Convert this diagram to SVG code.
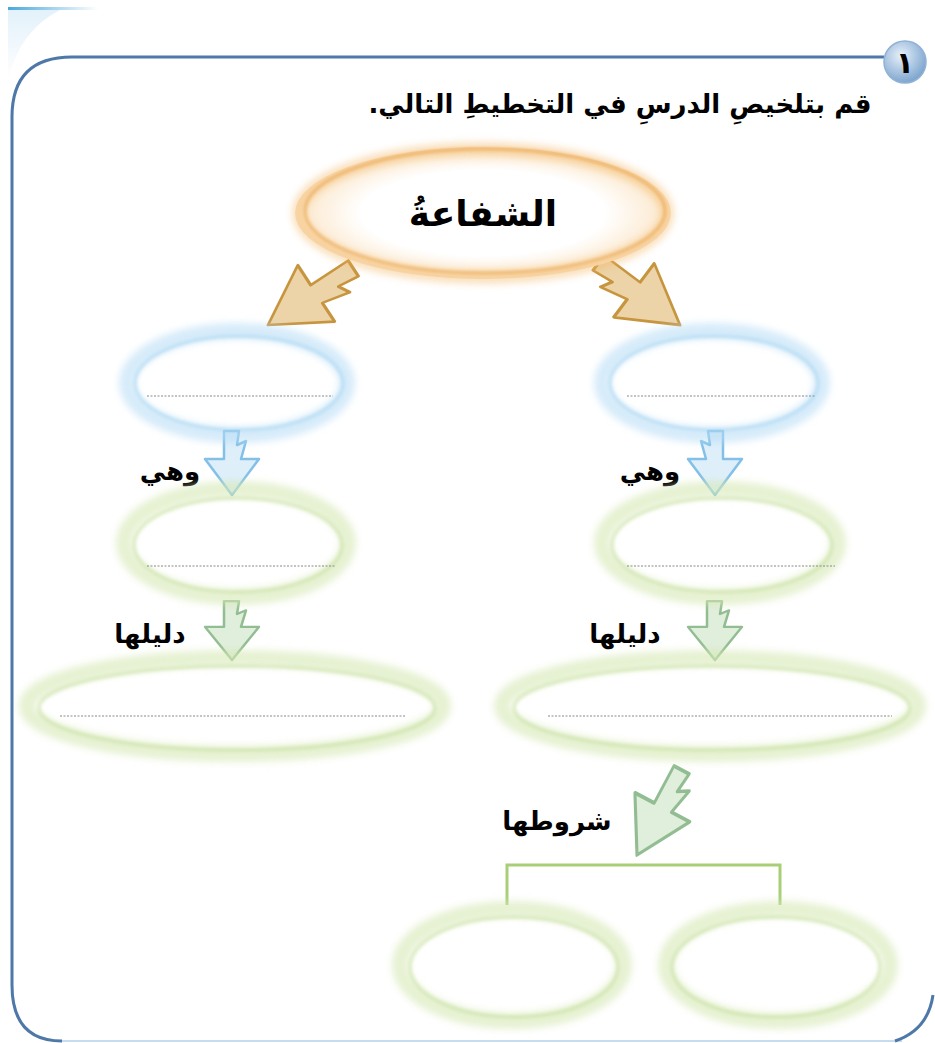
<svg xmlns="http://www.w3.org/2000/svg" width="935" height="1043" viewBox="0 0 935 1043">
<defs>
<filter id="soft" x="-20%" y="-20%" width="140%" height="140%"><feGaussianBlur stdDeviation="3.5"/></filter>
<filter id="soft2" x="-20%" y="-20%" width="140%" height="140%"><feGaussianBlur stdDeviation="1.5"/></filter>
<linearGradient id="tab" x1="0" y1="0" x2="1" y2="0"><stop offset="0" stop-color="#4aa8dc"/><stop offset="1" stop-color="#4aa8dc" stop-opacity="0"/></linearGradient>
<linearGradient id="tabv" x1="0" y1="0" x2="0" y2="1"><stop offset="0" stop-color="#d6ebf8"/><stop offset="1" stop-color="#d6ebf8" stop-opacity="0"/></linearGradient>
<radialGradient id="orangeFill" cx="0.5" cy="0.5" r="0.5"><stop offset="0.65" stop-color="#ffffff"/><stop offset="1" stop-color="#fbe6c8"/></radialGradient>
<radialGradient id="numFill" cx="0.4" cy="0.35" r="0.65"><stop offset="0" stop-color="#e6f0fa"/><stop offset="1" stop-color="#7fa6cf"/></radialGradient>
<path id="bolt" d="M-8,-64 L7,-64 L5,-50 L14,-54 L9,-36 L27,-36 L0,0 L-27,-36 L-8,-36 Z"/>
</defs>
<style>
.frame{fill:none;stroke:#4d78a8;stroke-width:3}
.t{font-family:"DejaVu Sans","Noto Sans",sans-serif;font-weight:bold;fill:#000}
.dots{stroke:#888;stroke-width:1;stroke-dasharray:2 1.5}
.oOut{fill:none;stroke:#f2b35e;stroke-width:14;opacity:0.4}
.oIn{fill:none;stroke:#e8a24a;stroke-width:3;opacity:0.6}
.bOut{fill:none;stroke:#b5dcf5;stroke-width:16;opacity:0.55}
.bIn{fill:none;stroke:#9dd0f0;stroke-width:4;opacity:0.45}
.gOut{fill:none;stroke:#d6e8b4;stroke-width:16;opacity:0.6}
.gIn{fill:none;stroke:#bcd98e;stroke-width:4;opacity:0.4}
.arrO{fill:#ecd3a8;stroke:#c8953f;stroke-width:2;stroke-linejoin:round}
.arrB{fill:#deeffa;stroke:#82c0e8;stroke-width:2.5;stroke-linejoin:round}
.arrG{fill:#e0eedc;stroke:#92bd92;stroke-width:2.5;stroke-linejoin:round}
.brk{fill:none;stroke:#a8cf78;stroke-width:3}
</style>
<rect width="935" height="1043" fill="#ffffff"/>
<rect x="8" y="7" width="90" height="3" fill="url(#tab)"/>
<path d="M8,10 L60,10 Q20,30 8,80 Z" fill="url(#tabv)" opacity="0.7"/>
<path class="frame" d="M884,57 L72,57 Q12,57 12,117 L12,985 Q12,1041 62,1041"/>
<path d="M62,1041 L902,1041" stroke="#c6ddef" stroke-width="2" fill="none"/>
<path class="frame" d="M895,1041 Q928,1030 933,995"/>
<g id="num">
<circle cx="905" cy="62" r="21" fill="url(#numFill)" stroke="#8fb2d6" stroke-width="1.5"/>
<text class="t" x="905" y="73" font-size="30" text-anchor="middle">١</text>
</g>
<text id="title" class="t" x="620" y="113" font-size="26" text-anchor="middle" direction="rtl">قم بتلخيصِ الدرسِ في التخطيطِ التالي.</text>

<g id="connectors">
<use href="#bolt" class="arrO" transform="translate(268,325) rotate(56.8) scale(1.25,1.6)"/>
<use href="#bolt" class="arrO" transform="translate(680,325) rotate(-53) scale(-1.25,1.6)"/>
<use href="#bolt" class="arrB" transform="translate(232,495)"/>
<use href="#bolt" class="arrB" transform="translate(715,495) scale(-1,1)"/>
<use href="#bolt" class="arrG" transform="translate(232,660) scale(1,0.92)"/>
<use href="#bolt" class="arrG" transform="translate(715,660) scale(1,0.92)"/>
<use href="#bolt" class="arrG" transform="translate(637,855) rotate(28) scale(1.15,1.5)"/>
<path class="brk" d="M507,905 L507,865 L780,865 L780,905"/>
</g>

<g id="n-main">
<ellipse cx="483" cy="213" rx="188" ry="66" fill="url(#orangeFill)"/>
<ellipse class="oOut" cx="483" cy="213" rx="184" ry="64" filter="url(#soft)"/>
<ellipse class="oIn" cx="485" cy="211" rx="180" ry="62" filter="url(#soft2)"/>
<text class="t" x="483" y="226" font-size="36" text-anchor="middle" direction="rtl">الشفاعةُ</text>
</g>

<g id="n-blue-l">
<ellipse class="bOut" cx="237" cy="383" rx="110" ry="52" filter="url(#soft)"/>
<ellipse class="bIn" cx="239" cy="383" rx="104" ry="47" filter="url(#soft2)"/>
<line class="dots" x1="147" y1="396" x2="333" y2="396"/>
</g>
<g id="n-blue-r">
<ellipse class="bOut" cx="712" cy="383" rx="110" ry="52" filter="url(#soft)"/>
<ellipse class="bIn" cx="714" cy="383" rx="104" ry="47" filter="url(#soft2)"/>
<line class="dots" x1="627" y1="396" x2="815" y2="396"/>
</g>

<text class="t" x="170" y="480" font-size="26" text-anchor="middle" direction="rtl">وهي</text>
<text class="t" x="650" y="480" font-size="26" text-anchor="middle" direction="rtl">وهي</text>

<g id="n-green1-l">
<ellipse class="gOut" cx="236" cy="543" rx="112" ry="54" filter="url(#soft)"/>
<ellipse class="gIn" cx="238" cy="545" rx="104" ry="47" filter="url(#soft2)"/>
<line class="dots" x1="147" y1="566" x2="335" y2="566"/>
</g>
<g id="n-green1-r">
<ellipse class="gOut" cx="720" cy="543" rx="118" ry="54" filter="url(#soft)"/>
<ellipse class="gIn" cx="722" cy="545" rx="110" ry="47" filter="url(#soft2)"/>
<line class="dots" x1="627" y1="566" x2="835" y2="566"/>
</g>

<text class="t" x="150" y="643" font-size="26" text-anchor="middle" direction="rtl">دليلها</text>
<text class="t" x="625" y="643" font-size="26" text-anchor="middle" direction="rtl">دليلها</text>

<g id="n-green2-l">
<ellipse class="gOut" cx="235" cy="706" rx="208" ry="48" filter="url(#soft)"/>
<ellipse class="gIn" cx="237" cy="708" rx="198" ry="42" filter="url(#soft2)"/>
<line class="dots" x1="60" y1="716" x2="405" y2="716"/>
</g>
<g id="n-green2-r">
<ellipse class="gOut" cx="710" cy="706" rx="208" ry="48" filter="url(#soft)"/>
<ellipse class="gIn" cx="712" cy="708" rx="198" ry="42" filter="url(#soft2)"/>
<line class="dots" x1="548" y1="716" x2="892" y2="716"/>
</g>

<text class="t" x="557" y="830" font-size="26" text-anchor="middle" direction="rtl">شروطها</text>

<g id="n-cond-l">
<ellipse class="gOut" cx="512" cy="965" rx="112" ry="56" filter="url(#soft)"/>
<ellipse class="gIn" cx="514" cy="967" rx="104" ry="50" filter="url(#soft2)"/>
</g>
<g id="n-cond-r">
<ellipse class="gOut" cx="778" cy="965" rx="112" ry="56" filter="url(#soft)"/>
<ellipse class="gIn" cx="776" cy="967" rx="104" ry="50" filter="url(#soft2)"/>
</g>
</svg>
